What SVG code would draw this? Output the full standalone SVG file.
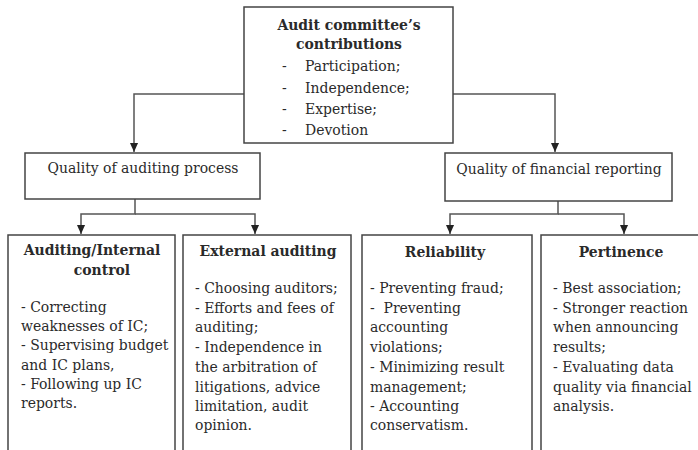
<svg xmlns="http://www.w3.org/2000/svg" width="698" height="450" viewBox="0 0 698 450">
<style>
.box{fill:#fff;stroke:#444;stroke-width:1.5}
text{font-family:'DejaVu Serif Condensed','DejaVu Serif',serif;font-stretch:condensed;font-size:15.5px;fill:#2a2a2a}
.b{font-weight:bold}
.c{text-anchor:middle}
.ln{fill:none;stroke:#555;stroke-width:1.5}
</style>
<defs>
<marker id="ah" viewBox="0 0 10 10" refX="10" refY="5" markerWidth="9" markerHeight="9" markerUnits="userSpaceOnUse" orient="auto">
<path d="M0,0.5 L10,5 L0,9.5 z" fill="#222"/>
</marker>
</defs>
<rect width="698" height="450" fill="#fff"/>
<g id="connectors">
<path class="ln" d="M244,94 H134 V152" marker-end="url(#ah)"/>
<path class="ln" d="M453,94 H555 V152" marker-end="url(#ah)"/>
<path class="ln" d="M135,199 V214 H81 V234" marker-end="url(#ah)"/>
<path class="ln" d="M135,214 H255 V234" marker-end="url(#ah)"/>
<path class="ln" d="M558,201 V214 H450 V234" marker-end="url(#ah)"/>
<path class="ln" d="M558,214 H624 V234" marker-end="url(#ah)"/>
</g>
<g id="top">
<rect class="box" x="244" y="7" width="209" height="136"/>
<text class="b c" x="349" y="30">Audit committee’s</text>
<text class="b c" x="349" y="49">contributions</text>
<text x="282" y="71">-</text><text x="305" y="71">Participation;</text>
<text x="282" y="93">-</text><text x="305" y="93">Independence;</text>
<text x="282" y="114">-</text><text x="305" y="114">Expertise;</text>
<text x="282" y="135">-</text><text x="305" y="135">Devotion</text>
</g>
<g id="auditing">
<rect class="box" x="25" y="153" width="235" height="46"/>
<text class="c" x="143" y="173">Quality of auditing process</text>
</g>
<g id="financial">
<rect class="box" x="445" y="153" width="227" height="48"/>
<text class="c" x="559" y="174">Quality of financial reporting</text>
</g>
<g id="internal">
<rect class="box" x="8" y="235" width="167" height="225"/>
<text class="b c" x="92" y="255">Auditing/Internal</text>
<text class="b c" x="102" y="275">control</text>
<text x="21" y="312">- Correcting</text>
<text x="21" y="331">weaknesses of IC;</text>
<text x="21" y="350">- Supervising budget</text>
<text x="21" y="370">and IC plans,</text>
<text x="21" y="389">- Following up IC</text>
<text x="21" y="408">reports.</text>
</g>
<g id="external">
<rect class="box" x="183" y="235" width="168" height="225"/>
<text class="b c" x="268" y="256">External auditing</text>
<text x="195" y="293">- Choosing auditors;</text>
<text x="195" y="313">- Efforts and fees of</text>
<text x="195" y="332">auditing;</text>
<text x="195" y="352">- Independence in</text>
<text x="195" y="372">the arbitration of</text>
<text x="195" y="392">litigations, advice</text>
<text x="195" y="411">limitation, audit</text>
<text x="195" y="430">opinion.</text>
</g>
<g id="reliability">
<rect class="box" x="362" y="235" width="170" height="225"/>
<text class="b c" x="445" y="257">Reliability</text>
<text x="370" y="293">- Preventing fraud;</text>
<text x="370" y="313" xml:space="preserve">-  Preventing</text>
<text x="370" y="332">accounting</text>
<text x="370" y="352">violations;</text>
<text x="370" y="372">- Minimizing result</text>
<text x="370" y="392">management;</text>
<text x="370" y="411">- Accounting</text>
<text x="370" y="430">conservatism.</text>
</g>
<g id="pertinence">
<rect class="box" x="541" y="235" width="170" height="225"/>
<text class="b c" x="621" y="257">Pertinence</text>
<text x="553" y="293">- Best association;</text>
<text x="553" y="313">- Stronger reaction</text>
<text x="553" y="332">when announcing</text>
<text x="553" y="352">results;</text>
<text x="553" y="372">- Evaluating data</text>
<text x="553" y="392">quality via financial</text>
<text x="553" y="411">analysis.</text>
</g>
</svg>
